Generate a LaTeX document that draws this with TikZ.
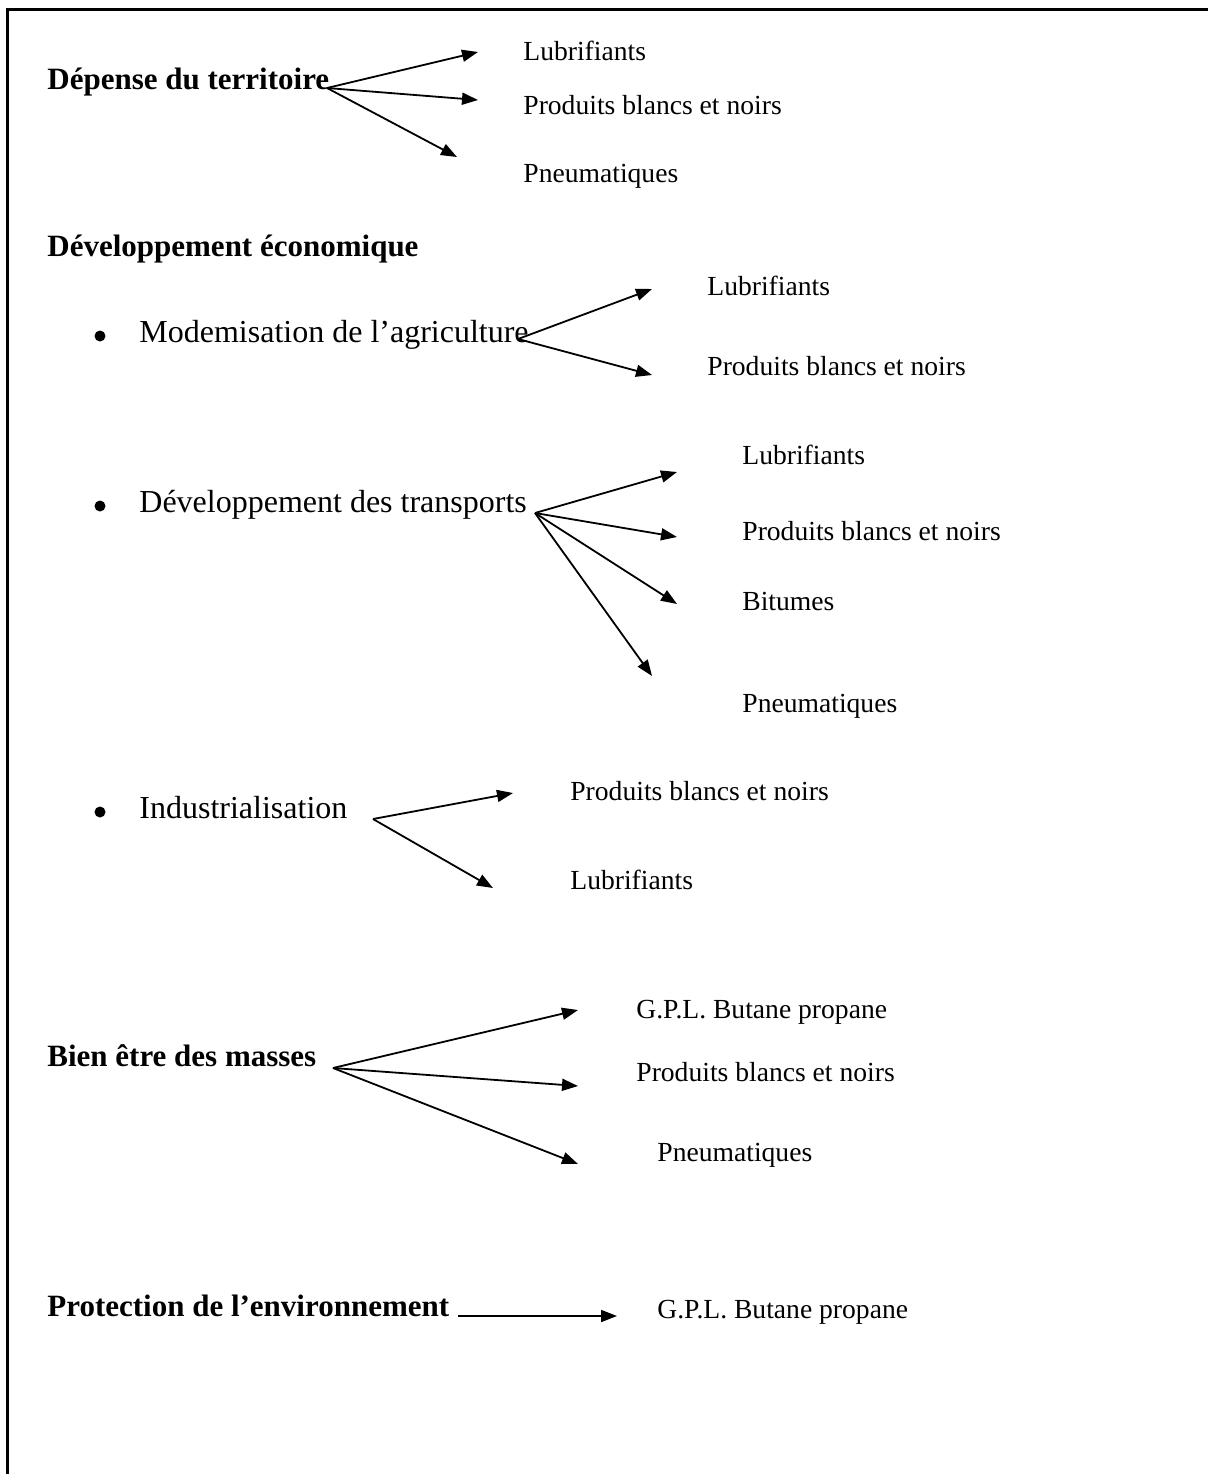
\documentclass[tikz,border=0pt]{standalone}
\usepackage{fontspec}
\setmainfont{Liberation Serif}
\usetikzlibrary{arrows.meta}
\begin{document}
\begin{tikzpicture}[x=0.5pt,y=-0.5pt,
  lbl/.style={anchor=base west,inner sep=0pt,font=\fontsize{13.8}{16}\selectfont},
  head/.style={anchor=base west,inner sep=0pt,font=\fontsize{15.5}{18}\selectfont\bfseries},
  item/.style={anchor=base west,inner sep=0pt,font=\fontsize{16}{19}\selectfont},
  dot/.style={circle,fill=black,inner sep=0pt,minimum size=5.5pt},
  arr/.style={line width=0.9pt,-{Triangle[length=8pt,width=6pt]}}]
\useasboundingbox (0,0) rectangle (1208,1474);
% frame
\draw[line width=1.5pt] (7,1474) -- (7,9) -- (1208,9);

% Depense du territoire
\node[head] (h1) at (47,89) {Dépense du territoire};
\coordinate (o1) at (327,88);
\node[lbl] (a1) at (523,60) {Lubrifiants};
\node[lbl] (a2) at (523,114) {Produits blancs et noirs};
\node[lbl] (a3) at (523,182) {Pneumatiques};
\coordinate (e11) at (478,52);
\coordinate (e12) at (478,100);
\coordinate (e13) at (457,157);
\draw[arr] (o1) -- (e11);
\draw[arr] (o1) -- (e12);
\draw[arr] (o1) -- (e13);

% Developpement economique
\node[head] (h2) at (47,256) {Développement économique};

\node[dot] (b1) at (100,336) {};
\node[item] (i1) at (139,342) {Modemisation de l’agriculture};
\coordinate (o2) at (518,339);
\node[lbl] (c1) at (707,295) {Lubrifiants};
\node[lbl] (c2) at (707,375) {Produits blancs et noirs};
\coordinate (e21) at (652,289);
\coordinate (e22) at (652,375);
\draw[arr] (o2) -- (e21);
\draw[arr] (o2) -- (e22);

\node[dot] (b2) at (100,506) {};
\node[item] (i2) at (139,512) {Développement des transports};
\coordinate (o3) at (535,513);
\node[lbl] (d1) at (742,464) {Lubrifiants};
\node[lbl] (d2) at (742,540) {Produits blancs et noirs};
\node[lbl] (d3) at (742,610) {Bitumes};
\node[lbl] (d4) at (742,712) {Pneumatiques};
\coordinate (e31) at (677,472);
\coordinate (e32) at (677,537);
\coordinate (e33) at (677,604);
\coordinate (e34) at (652,676);
\draw[arr] (o3) -- (e31);
\draw[arr] (o3) -- (e32);
\draw[arr] (o3) -- (e33);
\draw[arr] (o3) -- (e34);

\node[dot] (b3) at (100,812) {};
\node[item] (i3) at (139,818) {Industrialisation};
\coordinate (o4) at (373,819);
\node[lbl] (f1) at (570,800) {Produits blancs et noirs};
\node[lbl] (f2) at (570,889) {Lubrifiants};
\coordinate (e41) at (513,793);
\coordinate (e42) at (493,888);
\draw[arr] (o4) -- (e41);
\draw[arr] (o4) -- (e42);

% Bien etre des masses
\node[head] (h3) at (47,1066) {Bien être des masses};
\coordinate (o5) at (333,1068);
\node[lbl] (g1) at (636,1018) {G.P.L. Butane propane};
\node[lbl] (g2) at (636,1081) {Produits blancs et noirs};
\node[lbl] (g3) at (657,1161) {Pneumatiques};
\coordinate (e51) at (578,1010);
\coordinate (e52) at (578,1086);
\coordinate (e53) at (578,1164);
\draw[arr] (o5) -- (e51);
\draw[arr] (o5) -- (e52);
\draw[arr] (o5) -- (e53);

% Protection de l'environnement
\node[head] (h4) at (47,1316) {Protection de l’environnement};
\coordinate (o6) at (458,1316);
\node[lbl] (k1) at (657,1318) {G.P.L. Butane propane};
\coordinate (e61) at (617,1316);
\draw[arr] (o6) -- (e61);
\end{tikzpicture}
\end{document}
